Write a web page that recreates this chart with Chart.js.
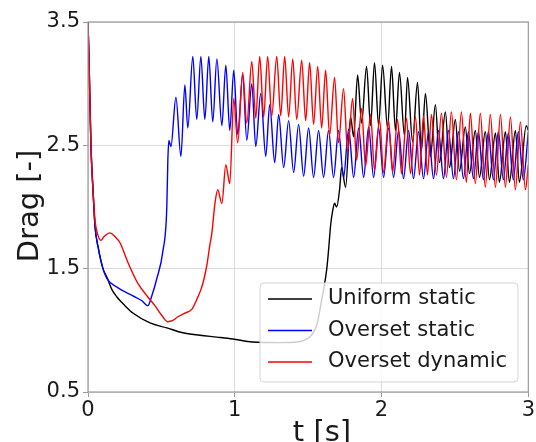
<!DOCTYPE html>
<html>
<head>
<meta charset="utf-8">
<script src="https://cdn.jsdelivr.net/npm/chart.js@4.4.0/dist/chart.umd.min.js"></script>
<style>
  html, body { margin: 0; padding: 0; background: #fff; }
</style>
</head>
<body>
<canvas id="drag-chart" width="536" height="442"></canvas>
<script>
// tick values
const xTicks = [0, 1, 2, 3];
const yTicks = [0.5, 1.5, 2.5, 3.5];

const seriesNames = ['Uniform static', 'Overset static', 'Overset dynamic'];
const seriesColors = ['#000000', '#0000ff', '#ff0000'];

// [t, drag] (peaks and troughs of the oscillations)
const uniformStatic = [
  [0, 3.50], [0.007, 3.19], [0.020, 2.50], [0.034, 2.14], [0.048, 1.84], [0.068, 1.68],
  [0.102, 1.50], [0.129, 1.43], [0.163, 1.33], [0.197, 1.27], [0.252, 1.20], [0.306, 1.14],
  [0.422, 1.06], [0.537, 1.02], [0.646, 0.98], [0.762, 0.96], [0.878, 0.945], [0.986, 0.93],
  [1.122, 0.905], [1.306, 0.90], [1.422, 0.905], [1.476, 0.92], [1.510, 0.945], [1.544, 1.00],
  [1.565, 1.07], [1.585, 1.20], [1.605, 1.33], [1.626, 1.49], [1.639, 1.65], [1.653, 1.85],
  [1.667, 1.97], [1.680, 2.03], [1.694, 2.00], [1.714, 2.14], [1.728, 2.32], [1.755, 2.16],
  [1.789, 2.73], [1.810, 2.57], [1.837, 3.07], [1.864, 2.68], [1.898, 3.14], [1.925, 2.66],
  [1.952, 3.17], [1.980, 2.66], [2.007, 3.15], [2.041, 2.64], [2.068, 3.14], [2.095, 2.62],
  [2.122, 3.09], [2.156, 2.58], [2.177, 3.05], [2.211, 2.53], [2.245, 3.01], [2.272, 2.46],
  [2.299, 2.92], [2.333, 2.41], [2.367, 2.83], [2.395, 2.36], [2.435, 2.77], [2.463, 2.32],
  [2.503, 2.71], [2.531, 2.29], [2.571, 2.65], [2.599, 2.27], [2.639, 2.62], [2.667, 2.24],
  [2.707, 2.61], [2.735, 2.22], [2.776, 2.60], [2.803, 2.20], [2.844, 2.61], [2.871, 2.20],
  [2.912, 2.62], [2.939, 2.20], [2.986, 2.66], [3.0, 2.62]
];

const oversetStatic = [
  [0, 3.50], [0.007, 3.19], [0.020, 2.50], [0.034, 2.14], [0.048, 1.84], [0.068, 1.68],
  [0.102, 1.50], [0.129, 1.42], [0.197, 1.35], [0.306, 1.28], [0.367, 1.24], [0.408, 1.20],
  [0.435, 1.28], [0.469, 1.42], [0.510, 1.64], [0.537, 2.00], [0.544, 2.38], [0.551, 2.54],
  [0.565, 2.49], [0.599, 2.89], [0.633, 2.41], [0.660, 2.99], [0.680, 2.64], [0.714, 3.22],
  [0.741, 2.71], [0.769, 3.22], [0.796, 2.71], [0.823, 3.22], [0.850, 2.69], [0.878, 3.20],
  [0.912, 2.66], [0.939, 3.15], [0.966, 2.62], [0.993, 3.11], [1.020, 2.59], [1.054, 3.07],
  [1.082, 2.54], [1.116, 3.00], [1.143, 2.49], [1.177, 2.92], [1.211, 2.41], [1.238, 2.83],
  [1.272, 2.36], [1.299, 2.75], [1.333, 2.32], [1.367, 2.70], [1.401, 2.28], [1.435, 2.67],
  [1.469, 2.25], [1.503, 2.64], [1.537, 2.24], [1.571, 2.62], [1.605, 2.24], [1.639, 2.62],
  [1.673, 2.24], [1.707, 2.62], [1.741, 2.24], [1.776, 2.63], [1.810, 2.24], [1.844, 2.64],
  [1.878, 2.24], [1.912, 2.65], [1.946, 2.24], [1.980, 2.64], [2.014, 2.24], [2.048, 2.64],
  [2.082, 2.24], [2.116, 2.62], [2.150, 2.23], [2.184, 2.62], [2.218, 2.23], [2.252, 2.61],
  [2.286, 2.23], [2.320, 2.61], [2.354, 2.23], [2.388, 2.62], [2.422, 2.23], [2.456, 2.62],
  [2.490, 2.23], [2.524, 2.61], [2.558, 2.23], [2.592, 2.61], [2.626, 2.23], [2.660, 2.61],
  [2.694, 2.22], [2.728, 2.61], [2.762, 2.22], [2.796, 2.61], [2.830, 2.22], [2.864, 2.60],
  [2.898, 2.22], [2.932, 2.61], [2.966, 2.22], [3.0, 2.61]
];

const oversetDynamic = [
  [0, 3.50], [0.007, 3.19], [0.020, 2.50], [0.034, 2.14], [0.048, 1.89], [0.068, 1.77],
  [0.088, 1.73], [0.109, 1.76], [0.150, 1.79], [0.184, 1.76], [0.218, 1.71], [0.272, 1.55],
  [0.340, 1.38], [0.408, 1.27], [0.456, 1.20], [0.503, 1.12], [0.544, 1.07], [0.578, 1.08],
  [0.612, 1.11], [0.660, 1.14], [0.707, 1.17], [0.741, 1.25], [0.769, 1.33], [0.789, 1.41],
  [0.810, 1.53], [0.830, 1.69], [0.844, 1.79], [0.864, 2.02], [0.884, 2.14], [0.912, 2.03],
  [0.939, 2.34], [0.966, 2.19], [0.993, 2.88], [1.020, 2.52], [1.054, 3.09], [1.082, 2.68],
  [1.116, 3.18], [1.143, 2.72], [1.170, 3.22], [1.197, 2.73], [1.224, 3.22], [1.252, 2.74],
  [1.286, 3.22], [1.313, 2.74], [1.340, 3.22], [1.367, 2.73], [1.395, 3.20], [1.422, 2.71],
  [1.456, 3.19], [1.483, 2.70], [1.510, 3.17], [1.537, 2.67], [1.565, 3.14], [1.592, 2.64],
  [1.619, 3.11], [1.646, 2.58], [1.680, 3.05], [1.707, 2.52], [1.741, 2.96], [1.769, 2.45],
  [1.803, 2.88], [1.830, 2.38], [1.864, 2.80], [1.891, 2.33], [1.925, 2.75], [1.952, 2.30],
  [1.986, 2.71], [2.014, 2.28], [2.048, 2.70], [2.075, 2.28], [2.109, 2.71], [2.136, 2.27],
  [2.170, 2.72], [2.197, 2.27], [2.231, 2.73], [2.259, 2.26], [2.286, 2.74], [2.313, 2.26],
  [2.340, 2.75], [2.374, 2.26], [2.408, 2.76], [2.442, 2.24], [2.476, 2.77], [2.510, 2.22],
  [2.544, 2.77], [2.578, 2.20], [2.605, 2.76], [2.639, 2.19], [2.673, 2.76], [2.707, 2.16],
  [2.741, 2.75], [2.776, 2.16], [2.810, 2.75], [2.844, 2.16], [2.878, 2.73], [2.912, 2.14],
  [2.946, 2.69], [2.980, 2.14], [3.0, 2.34]
];

const allSeries = [uniformStatic, oversetStatic, oversetDynamic];

const FONT = '"DejaVu Sans", sans-serif';
const TEXT = '#1a1a1a';

// frame, legend box and axis titles drawn like the matplotlib figure
const figureExtras = {
  id: 'figureExtras',
  afterDatasetsDraw(chart) {
    const ctx = chart.ctx;
    const a = chart.chartArea;
    ctx.save();
    ctx.strokeStyle = '#9a9a9a';
    ctx.lineWidth = 1.2;
    ctx.strokeRect(a.left, a.top, a.right - a.left, a.bottom - a.top);

    // legend
    const bx = 260, by = 283, bw = 258, bh = 99;
    ctx.beginPath();
    ctx.roundRect(bx, by, bw, bh, 4);
    ctx.fillStyle = 'rgba(255,255,255,0.8)';
    ctx.fill();
    ctx.strokeStyle = '#d4d4d4';
    ctx.lineWidth = 1;
    ctx.stroke();
    ctx.font = '21px ' + FONT;
    ctx.textBaseline = 'middle';
    ctx.textAlign = 'left';
    seriesNames.forEach(function (name, i) {
      const y = 299 + i * 31.5;
      ctx.strokeStyle = seriesColors[i];
      ctx.lineWidth = 1.4;
      ctx.beginPath();
      ctx.moveTo(268, y);
      ctx.lineTo(312, y);
      ctx.stroke();
      ctx.fillStyle = TEXT;
      ctx.fillText(name, 328, y);
    });
    ctx.restore();
  },
  afterDraw(chart) {
    const ctx = chart.ctx;
    ctx.save();
    ctx.fillStyle = TEXT;
    ctx.font = '29px ' + FONT;
    ctx.textAlign = 'center';
    ctx.textBaseline = 'middle';
    ctx.translate(30, 206);
    ctx.rotate(-Math.PI / 2);
    ctx.fillText('Drag [-]', 0, 0);
    ctx.restore();

    ctx.save();
    ctx.fillStyle = TEXT;
    ctx.font = '29px ' + FONT;
    ctx.textAlign = 'center';
    ctx.textBaseline = 'alphabetic';
    ctx.fillText('t [s]', 322, 441);
    ctx.restore();
  }
};

const ctx = document.getElementById('drag-chart').getContext('2d');
const dragChart = new Chart(ctx, {
  type: 'line',
  data: {
    datasets: allSeries.map(function (s, i) {
      return {
        label: seriesNames[i],
        data: s.map(function (p) { return { x: p[0], y: p[1] }; }),
        borderColor: seriesColors[i],
        borderWidth: 1.4,
        pointRadius: 0,
        fill: false,
        cubicInterpolationMode: 'monotone',
        order: 3 - i
      };
    })
  },
  options: {
    responsive: false,
    animation: false,
    layout: { padding: { top: 22, right: 7, left: 0, bottom: 0 } },
    plugins: {
      legend: { display: false },
      tooltip: { enabled: false }
    },
    scales: {
      x: {
        type: 'linear',
        min: 0,
        max: 3,
        afterBuildTicks: function (scale) {
          scale.ticks = xTicks.map(function (v) { return { value: v }; });
        },
        afterFit: function (scale) { scale.height = 50; },
        grid: { color: '#dcdcdc', lineWidth: 1, tickLength: 5, tickColor: '#9a9a9a' },
        border: { display: false },
        ticks: {
          font: { family: FONT, size: 21 },
          color: TEXT,
          padding: 1,
          maxRotation: 0,
          callback: function (v) { return String(v); }
        }
      },
      y: {
        type: 'linear',
        min: 0.5,
        max: 3.5,
        afterBuildTicks: function (scale) {
          scale.ticks = yTicks.map(function (v) { return { value: v }; });
        },
        afterFit: function (scale) { scale.width = 88; },
        grid: { color: '#dcdcdc', lineWidth: 1, tickLength: 5, tickColor: '#9a9a9a' },
        border: { display: false },
        ticks: {
          font: { family: FONT, size: 21 },
          color: TEXT,
          padding: 3,
          callback: function (v) { return v.toFixed(1); }
        }
      }
    }
  },
  plugins: [figureExtras]
});
</script>
</body>
</html>
